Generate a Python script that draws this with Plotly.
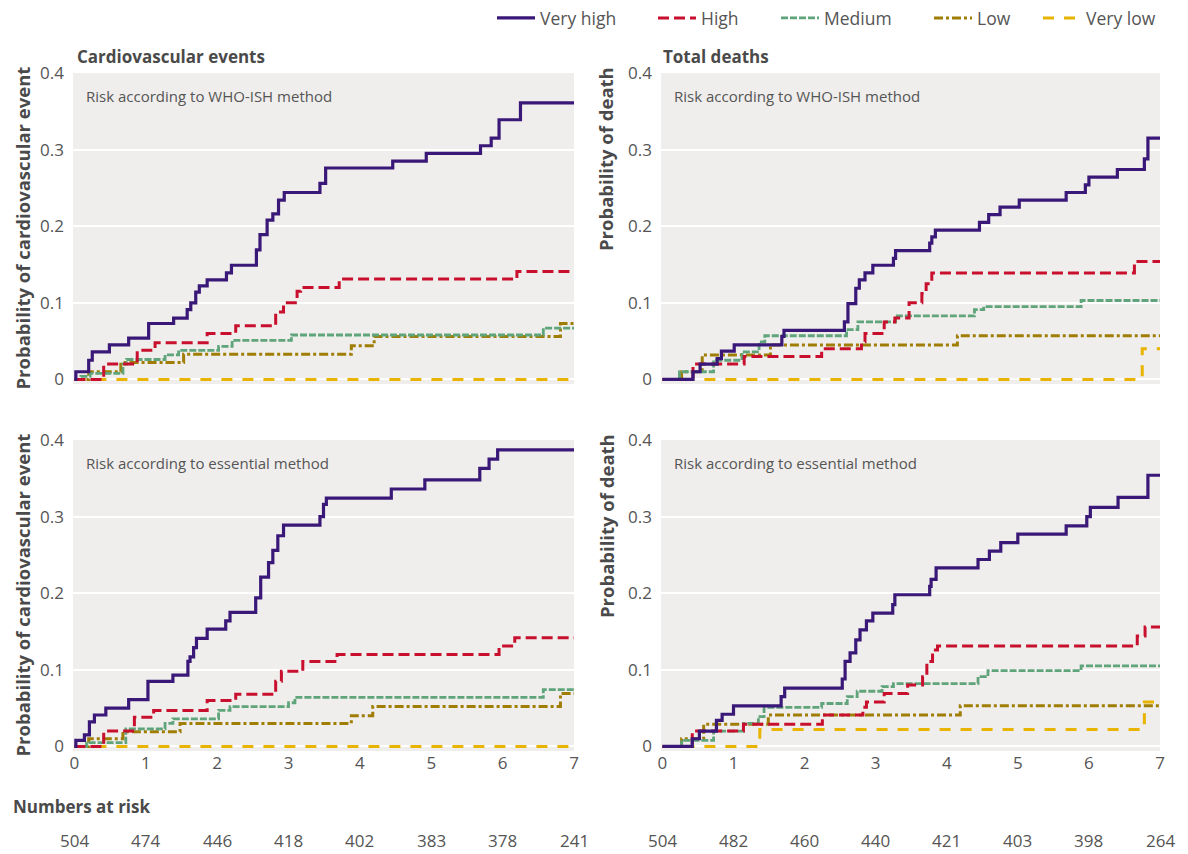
import plotly.graph_objects as go

# ---------------- data ----------------
series_names = ["Very high", "High", "Medium", "Low", "Very low"]
x_ticks = [0, 1, 2, 3, 4, 5, 6, 7]
y_ticks = [0, 0.1, 0.2, 0.3, 0.4]
y_tick_labels = ["0", "0.1", "0.2", "0.3", "0.4"]

# Cardiovascular events, WHO-ISH method
cv_who_vhigh_t = [0, 0.02, 0.20, 0.25, 0.49, 0.76, 1.04, 1.39, 1.58, 1.63, 1.70, 1.75, 1.86, 2.13, 2.20, 2.55, 2.60, 2.70, 2.78, 2.86, 2.94, 3.44, 3.52, 4.46, 4.93, 5.69, 5.84, 5.95, 6.25, 7]
cv_who_vhigh_p = [0, 0.010, 0.025, 0.036, 0.045, 0.054, 0.073, 0.080, 0.091, 0.100, 0.114, 0.122, 0.130, 0.139, 0.149, 0.169, 0.189, 0.208, 0.216, 0.234, 0.244, 0.256, 0.276, 0.285, 0.295, 0.305, 0.315, 0.339, 0.361, 0.361]
cv_who_high_t = [0, 0.41, 0.88, 1.13, 1.86, 2.26, 2.82, 2.93, 3.12, 3.17, 3.71, 6.20, 7]
cv_who_high_p = [0, 0.020, 0.038, 0.048, 0.060, 0.070, 0.088, 0.100, 0.115, 0.120, 0.131, 0.141, 0.141]
cv_who_med_t = [0, 0.09, 0.22, 0.68, 0.73, 1.27, 1.46, 2.02, 2.21, 3.04, 6.57, 7]
cv_who_med_p = [0, 0.004, 0.008, 0.020, 0.026, 0.032, 0.038, 0.043, 0.051, 0.058, 0.067, 0.067]
cv_who_low_t = [0, 0.20, 0.65, 1.53, 3.88, 4.20, 6.81, 7]
cv_who_low_p = [0, 0.010, 0.022, 0.033, 0.044, 0.056, 0.073, 0.073]
cv_who_vlow_t = [0, 7]
cv_who_vlow_p = [0, 0]

# Total deaths, WHO-ISH method
dth_who_vhigh_t = [0, 0.43, 0.53, 0.77, 0.83, 1.01, 1.68, 1.71, 2.56, 2.61, 2.72, 2.77, 2.85, 2.96, 3.25, 3.28, 3.76, 3.79, 3.84, 4.46, 4.59, 4.75, 5.02, 5.68, 5.95, 6.00, 6.40, 6.78, 6.83, 7]
dth_who_vhigh_p = [0, 0.010, 0.020, 0.027, 0.037, 0.045, 0.056, 0.064, 0.075, 0.099, 0.119, 0.130, 0.139, 0.149, 0.158, 0.168, 0.178, 0.186, 0.195, 0.205, 0.215, 0.225, 0.234, 0.244, 0.254, 0.264, 0.274, 0.288, 0.315, 0.315]
dth_who_high_t = [0, 0.43, 1.15, 2.24, 2.80, 2.85, 3.12, 3.27, 3.47, 3.65, 3.71, 3.79, 6.64, 7]
dth_who_high_p = [0, 0.020, 0.030, 0.040, 0.049, 0.060, 0.075, 0.080, 0.100, 0.112, 0.125, 0.139, 0.154, 0.154]
dth_who_med_t = [0, 0.24, 0.72, 1.12, 1.36, 1.44, 2.59, 2.75, 3.28, 4.39, 4.52, 5.89, 7]
dth_who_med_p = [0, 0.010, 0.025, 0.036, 0.049, 0.057, 0.065, 0.075, 0.083, 0.091, 0.095, 0.103, 0.103]
dth_who_low_t = [0, 0.27, 0.56, 1.52, 4.15, 7]
dth_who_low_p = [0, 0.010, 0.032, 0.045, 0.057, 0.057]
dth_who_vlow_t = [0, 6.75, 7]
dth_who_vlow_p = [0, 0.040, 0.040]

# Cardiovascular events, essential method
cv_ess_vhigh_t = [0, 0.02, 0.14, 0.21, 0.28, 0.44, 0.76, 1.03, 1.38, 1.59, 1.62, 1.67, 1.71, 1.86, 2.12, 2.18, 2.54, 2.61, 2.72, 2.78, 2.85, 2.93, 3.44, 3.49, 3.53, 4.44, 4.91, 5.68, 5.81, 5.93, 7]
cv_ess_vhigh_p = [0, 0.008, 0.015, 0.032, 0.041, 0.050, 0.061, 0.085, 0.093, 0.111, 0.117, 0.129, 0.141, 0.153, 0.164, 0.175, 0.194, 0.221, 0.240, 0.256, 0.275, 0.289, 0.300, 0.316, 0.324, 0.336, 0.348, 0.363, 0.375, 0.387, 0.387]
cv_ess_high_t = [0, 0.41, 0.84, 1.11, 1.86, 2.26, 2.82, 2.90, 3.20, 3.68, 5.95, 6.17, 7]
cv_ess_high_p = [0, 0.020, 0.038, 0.047, 0.060, 0.068, 0.085, 0.098, 0.111, 0.120, 0.131, 0.142, 0.142]
cv_ess_med_t = [0, 0.17, 0.72, 1.27, 1.38, 2.02, 2.18, 3.00, 3.09, 6.57, 7]
cv_ess_med_p = [0, 0.005, 0.023, 0.030, 0.036, 0.047, 0.052, 0.057, 0.064, 0.074, 0.074]
cv_ess_low_t = [0, 0.20, 0.68, 1.48, 3.88, 4.18, 6.81, 7]
cv_ess_low_p = [0, 0.010, 0.019, 0.030, 0.040, 0.052, 0.069, 0.069]
cv_ess_vlow_t = [0, 7]
cv_ess_vlow_p = [0, 0]

# Total deaths, essential method
dth_ess_vhigh_t = [0, 0.42, 0.52, 0.76, 0.84, 1.00, 1.67, 1.72, 2.53, 2.57, 2.64, 2.72, 2.78, 2.87, 2.96, 3.24, 3.27, 3.76, 3.78, 3.85, 4.44, 4.60, 4.76, 5.00, 5.68, 5.97, 6.02, 6.41, 6.83, 7]
dth_ess_vhigh_p = [0, 0.010, 0.020, 0.034, 0.042, 0.053, 0.065, 0.076, 0.088, 0.111, 0.122, 0.139, 0.152, 0.164, 0.174, 0.185, 0.198, 0.209, 0.218, 0.233, 0.244, 0.255, 0.266, 0.277, 0.288, 0.300, 0.312, 0.325, 0.354, 0.354]
dth_ess_high_t = [0, 0.42, 1.14, 2.25, 2.82, 2.87, 3.12, 3.45, 3.66, 3.72, 3.80, 3.87, 6.68, 6.79, 7]
dth_ess_high_p = [0, 0.020, 0.029, 0.041, 0.051, 0.058, 0.069, 0.080, 0.091, 0.111, 0.126, 0.131, 0.144, 0.156, 0.156]
dth_ess_med_t = [0, 0.27, 0.72, 1.14, 1.35, 1.43, 2.24, 2.60, 2.74, 3.09, 3.25, 4.44, 4.58, 5.89, 7]
dth_ess_med_p = [0, 0.008, 0.020, 0.030, 0.039, 0.051, 0.056, 0.065, 0.072, 0.078, 0.082, 0.091, 0.099, 0.105, 0.105]
dth_ess_low_t = [0, 0.27, 0.58, 1.49, 4.19, 7]
dth_ess_low_p = [0, 0.010, 0.029, 0.041, 0.053, 0.053]
dth_ess_vlow_t = [0, 1.37, 6.78, 7]
dth_ess_vlow_p = [0, 0.022, 0.058, 0.058]

risk_cv = [504, 474, 446, 418, 402, 383, 378, 241]
risk_death = [504, 482, 460, 440, 421, 403, 398, 264]

panel_titles = ["Cardiovascular events", "Total deaths"]
method_labels = ["Risk according to WHO-ISH method", "Risk according to essential method"]
y_titles = ["Probability of cardiovascular event", "Probability of death"]

# ---------------- styles ----------------
FONT = "Open Sans, sans-serif"
TXT = "#555555"
TITLE = "#4a4a4a"
styles = {
    "Very high": dict(color="#3a1878", width=3.2, dash="solid"),
    "High": dict(color="#c8102e", width=3, dash="11px,5px"),
    "Medium": dict(color="#5fa47a", width=2.8, dash="7px,2px"),
    "Low": dict(color="#a07e06", width=3, dash="9px,3px,3px,3px"),
    "Very low": dict(color="#e8b400", width=3, dash="11px,10px"),
}
legend_ids = ["legend", "legend2", "legend3", "legend4", "legend5"]
legend_text_px = [540, 701, 824, 977, 1086]

panels = [
    ("x", "y", [(cv_who_vhigh_t, cv_who_vhigh_p), (cv_who_high_t, cv_who_high_p), (cv_who_med_t, cv_who_med_p), (cv_who_low_t, cv_who_low_p), (cv_who_vlow_t, cv_who_vlow_p)]),
    ("x2", "y2", [(dth_who_vhigh_t, dth_who_vhigh_p), (dth_who_high_t, dth_who_high_p), (dth_who_med_t, dth_who_med_p), (dth_who_low_t, dth_who_low_p), (dth_who_vlow_t, dth_who_vlow_p)]),
    ("x3", "y3", [(cv_ess_vhigh_t, cv_ess_vhigh_p), (cv_ess_high_t, cv_ess_high_p), (cv_ess_med_t, cv_ess_med_p), (cv_ess_low_t, cv_ess_low_p), (cv_ess_vlow_t, cv_ess_vlow_p)]),
    ("x4", "y4", [(dth_ess_vhigh_t, dth_ess_vhigh_p), (dth_ess_high_t, dth_ess_high_p), (dth_ess_med_t, dth_ess_med_p), (dth_ess_low_t, dth_ess_low_p), (dth_ess_vlow_t, dth_ess_vlow_p)]),
]

fig = go.Figure()
for pi, (xa, ya, data) in enumerate(panels):
    for si in reversed(range(len(series_names))):
        name = series_names[si]
        t, p = data[si]
        fig.add_trace(go.Scatter(
            x=t, y=p, mode="lines", line_shape="hv", name=name,
            line=styles[name], xaxis=xa, yaxis=ya,
            showlegend=(pi == 0), legend=legend_ids[si], hoverinfo="skip",
        ))

W, H = 1188, 854
xd_left = [73 / W, 574 / W]
xd_right = [661 / W, 1160 / W]
yd_top = [1 - 384 / H, 1 - 73 / H]
yd_bot = [1 - 751 / H, 1 - 440 / H]

def xaxis(domain, anchor, labels):
    return dict(domain=domain, anchor=anchor, range=[-0.02, 7], showgrid=False, zeroline=False,
                showline=False, tickvals=x_ticks, showticklabels=labels, ticks="",
                tickfont=dict(family=FONT, size=17, color=TXT), ticklabelstandoff=0,
                automargin=False, fixedrange=True)

def yaxis(domain, anchor):
    return dict(domain=domain, anchor=anchor, range=[-0.006, 0.4], showgrid=True,
                gridcolor="white", gridwidth=2, zeroline=False, showline=False,
                tickvals=y_ticks, ticktext=y_tick_labels, ticks="",
                tickfont=dict(family=FONT, size=17, color=TXT), ticklabelstandoff=8,
                automargin=False, fixedrange=True)

layout_legends = {}
for lid, px in zip(legend_ids, legend_text_px):
    layout_legends[lid] = dict(orientation="h", x=(px - 48) / W, xanchor="left", y=1 - 18 / H,
                               yanchor="middle", font=dict(family=FONT, size=17.5, color=TXT),
                               bgcolor="rgba(0,0,0,0)", itemwidth=38)

fig.update_layout(
    width=W, height=H, margin=dict(l=0, r=0, t=0, b=0, autoexpand=False),
    paper_bgcolor="white", plot_bgcolor="#efeeec",
    xaxis=xaxis(xd_left, "y", False), yaxis=yaxis(yd_top, "x"),
    xaxis2=xaxis(xd_right, "y2", False), yaxis2=yaxis(yd_top, "x2"),
    xaxis3=xaxis(xd_left, "y3", True), yaxis3=yaxis(yd_bot, "x3"),
    xaxis4=xaxis(xd_right, "y4", True), yaxis4=yaxis(yd_bot, "x4"),
    **layout_legends,
)

ann = []
ann.append(dict(text="<b>" + panel_titles[0] + "</b>", x=75 / W, y=1 - 57 / H))
ann.append(dict(text="<b>" + panel_titles[1] + "</b>", x=661 / W, y=1 - 57 / H))
for a in ann:
    a.update(xref="paper", yref="paper", xanchor="left", yanchor="middle", showarrow=False,
             font=dict(family=FONT, size=17, color=TITLE))
for xa, lab in [("x", method_labels[0]), ("x2", method_labels[0]), ("x3", method_labels[1]), ("x4", method_labels[1])]:
    ya = "y" + xa[1:]
    ann.append(dict(text=lab, xref=xa + " domain", yref=ya + " domain", x=0.022, y=0.925,
                    xanchor="left", yanchor="middle", showarrow=False,
                    font=dict(family=FONT, size=15, color=TXT)))
for xpx, ytop, lab in [(22, 65, y_titles[0]), (606, 65, y_titles[1]), (22, 432, y_titles[0]), (606, 432, y_titles[1])]:
    ann.append(dict(text="<b>" + lab + "</b>", xref="paper", yref="paper", x=xpx / W, y=1 - ytop / H,
                    xanchor="center", yanchor="top", textangle=-90, showarrow=False,
                    font=dict(family=FONT, size=18.5, color=TITLE)))
ann.append(dict(text="<b>Numbers at risk</b>", xref="paper", yref="paper", x=11 / W, y=1 - 806 / H,
                xanchor="left", yanchor="middle", showarrow=False,
                font=dict(family=FONT, size=17, color=TITLE)))
for xa, vals in [("x3", risk_cv), ("x4", risk_death)]:
    for xv, n in zip(x_ticks, vals):
        ann.append(dict(text=str(n), xref=xa, yref="paper", x=xv, y=1 - 840 / H,
                        xanchor="center", yanchor="middle", showarrow=False,
                        font=dict(family=FONT, size=17, color=TXT)))
fig.update_layout(annotations=ann)

fig.write_html("out.html", config={"displayModeBar": False},
               post_script="document.body.style.margin='0px';document.body.style.overflow='hidden';")
